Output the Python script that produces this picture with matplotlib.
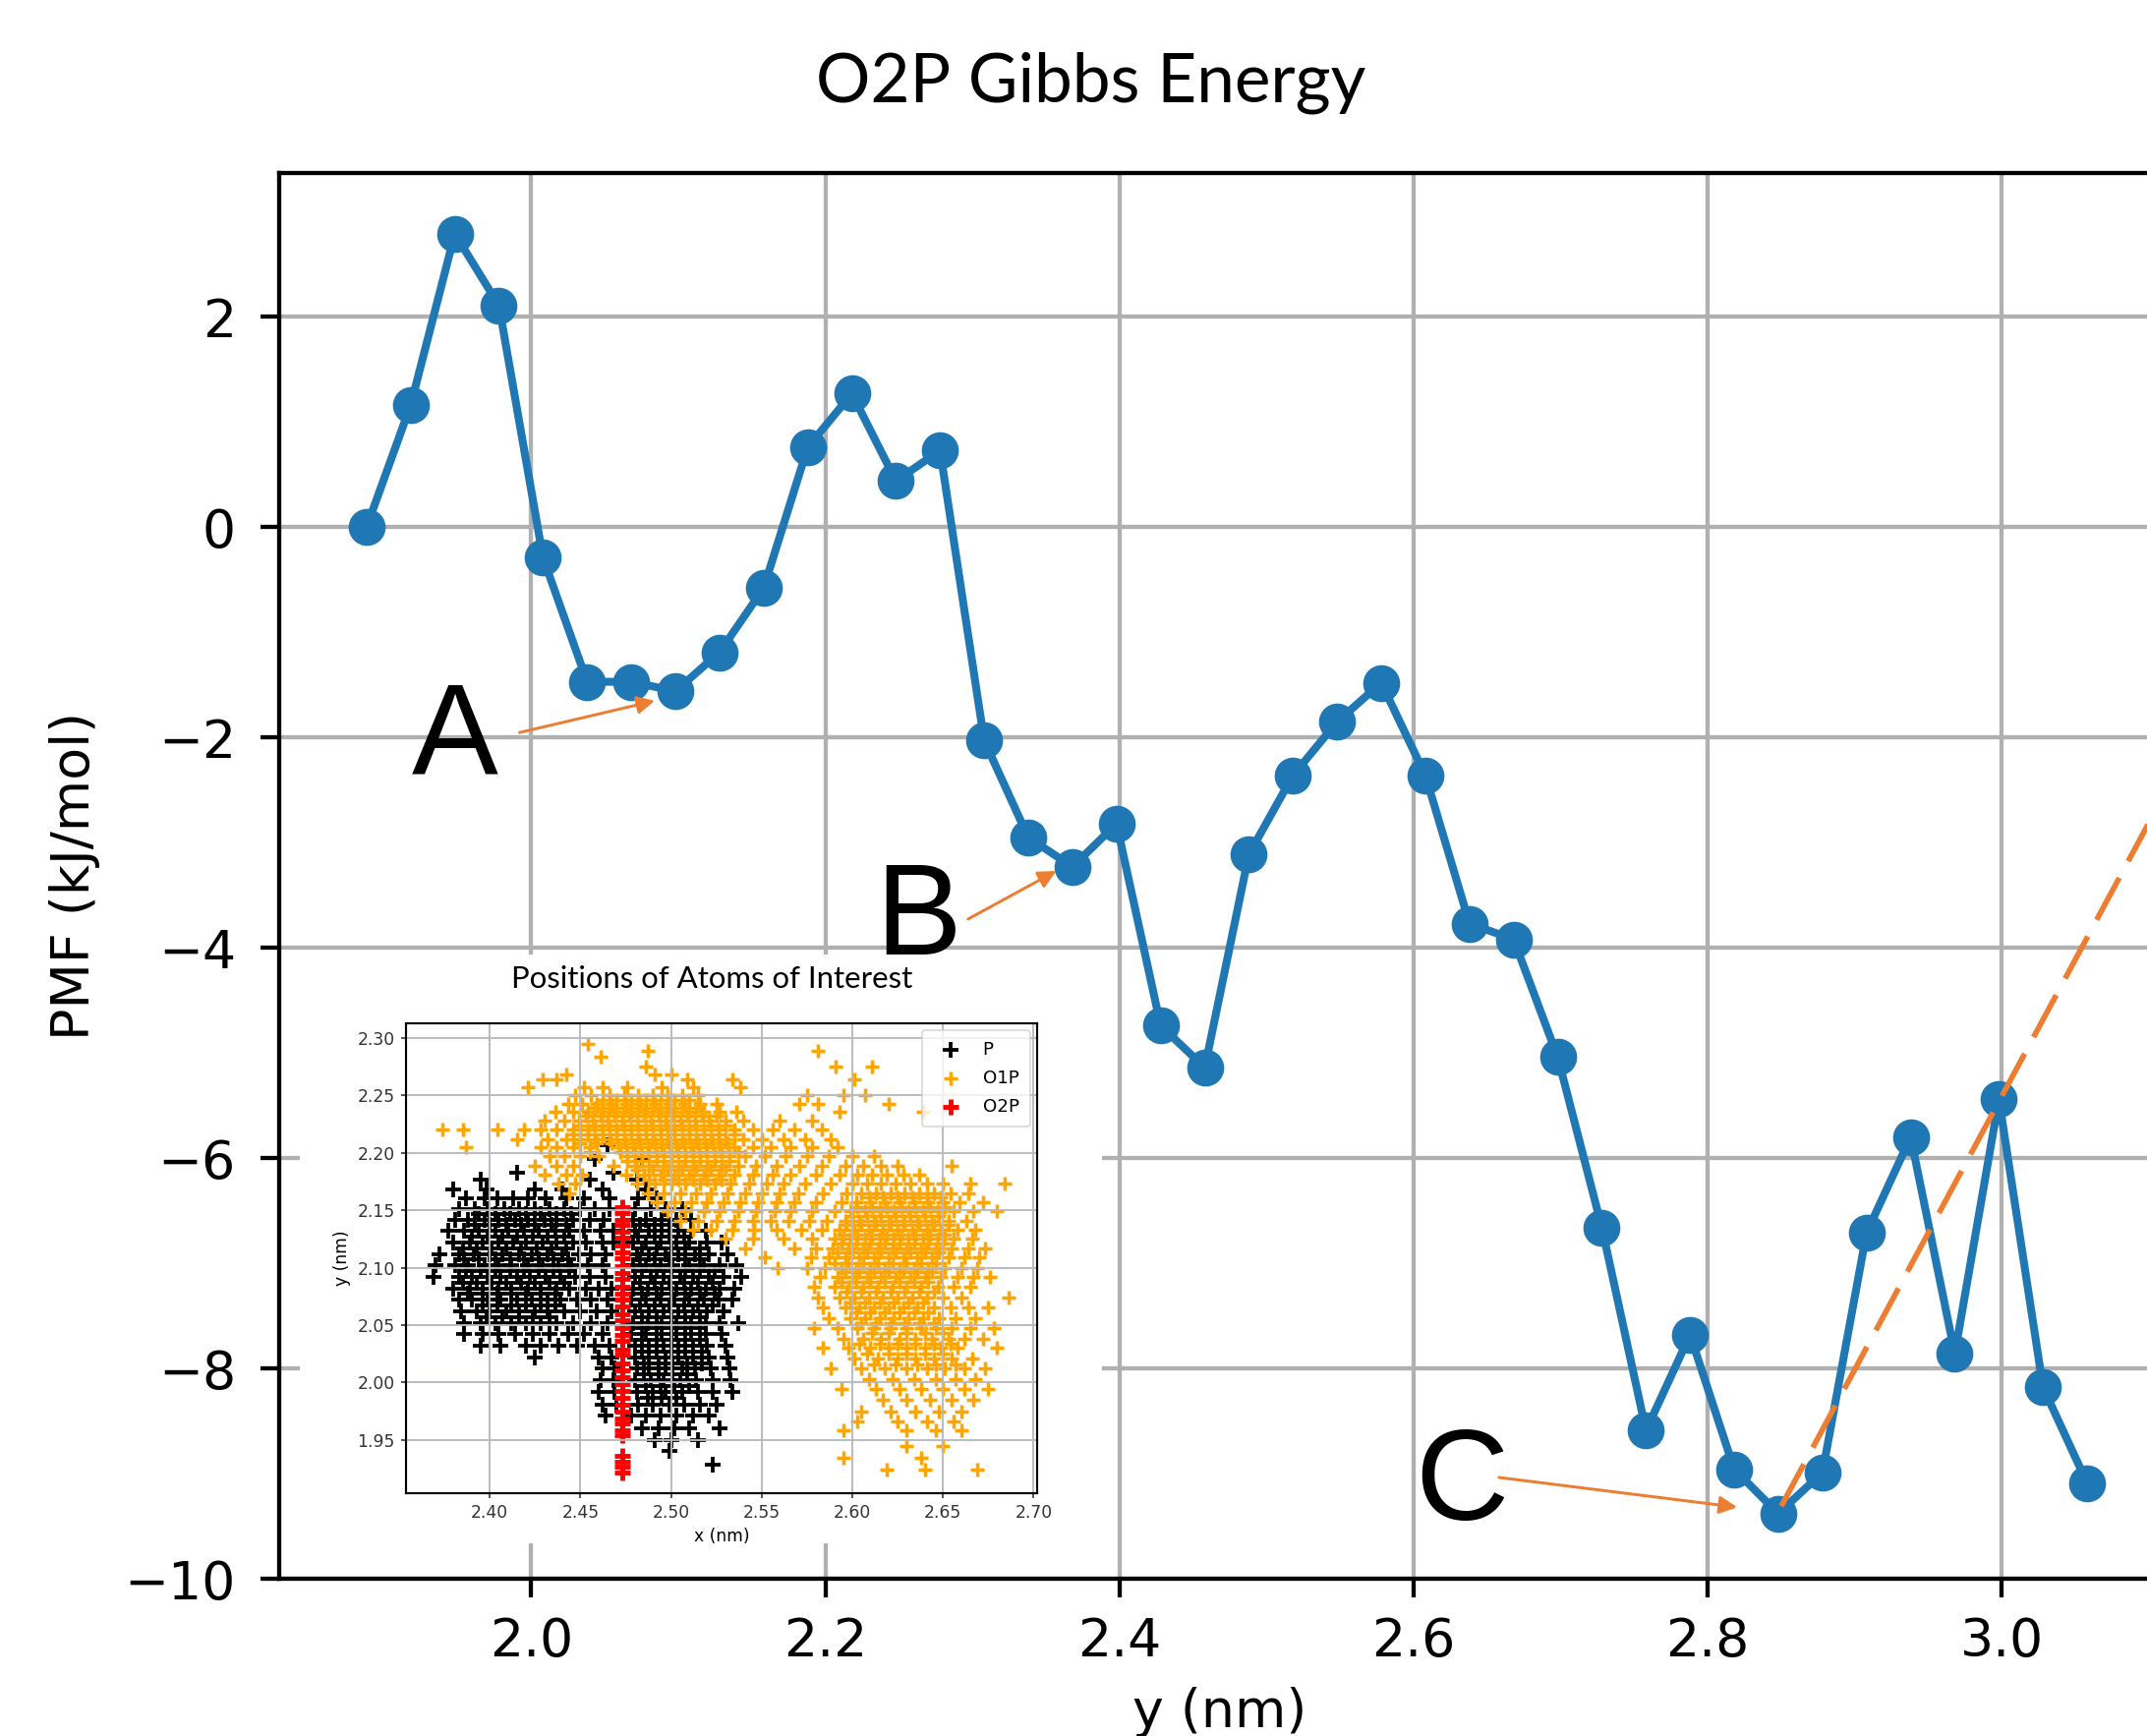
import matplotlib
matplotlib.use("Agg")
import matplotlib.pyplot as plt

# main PMF curve
y_nm = [1.888, 1.918, 1.948, 1.978, 2.008, 2.038, 2.068, 2.098, 2.128, 2.158,
        2.188, 2.218, 2.248, 2.278, 2.308, 2.338, 2.368, 2.398, 2.428, 2.458,
        2.488, 2.518, 2.548, 2.578, 2.608, 2.638, 2.668, 2.698, 2.728, 2.758,
        2.788, 2.818, 2.848, 2.878, 2.908, 2.938, 2.968, 2.998, 3.028, 3.058]
pmf = [0.00, 1.16, 2.79, 2.11, -0.29, -1.47, -1.47, -1.56, -1.19, -0.58,
       0.76, 1.27, 0.44, 0.73, -2.03, -2.95, -3.23, -2.82, -4.74, -5.14,
       -3.11, -2.36, -1.85, -1.48, -2.36, -3.77, -3.92, -5.04, -6.66, -8.59,
       -7.68, -8.96, -9.38, -8.99, -6.71, -5.80, -7.86, -5.44, -8.18, -9.09]

# orange dashed guide line
trend_x = [2.850, 3.120]
trend_y = [-9.31, -2.29]

# letters and their arrows
labels = ["A", "B", "C"]
label_xy = [(1.948, -2.344), (2.263, -4.062), (2.633, -9.44)]
arrow_from = [(1.992, -1.953), (2.297, -3.727), (2.658, -9.037)]
arrow_to = [(2.084, -1.651), (2.357, -3.269), (2.820, -9.320)]

# inset scatter, read row by row: (y, [x, ...])
p_rows = [
    (2.207, [2.465]),
    (2.195, [2.458, 2.484]),
    (2.183, [2.415, 2.468]),
    (2.177, [2.395, 2.455, 2.481]),
    (2.168, [2.380, 2.398, 2.425, 2.440, 2.462, 2.486]),
    (2.160, [2.387, 2.397, 2.404, 2.413, 2.421, 2.431, 2.442, 2.452, 2.466, 2.482, 2.492]),
    (2.151, [2.383, 2.392, 2.399, 2.408, 2.416, 2.425, 2.433, 2.441, 2.450, 2.458, 2.466, 2.480, 2.489, 2.497, 2.506]),
    (2.142, [2.381, 2.388, 2.397, 2.405, 2.414, 2.421, 2.430, 2.437, 2.446, 2.455, 2.463, 2.479, 2.486, 2.495, 2.503, 2.511]),
    (2.132, [2.377, 2.386, 2.394, 2.403, 2.410, 2.419, 2.427, 2.436, 2.444, 2.452, 2.461, 2.468, 2.480, 2.488, 2.495, 2.504, 2.511, 2.519]),
    (2.122, [2.380, 2.389, 2.396, 2.405, 2.413, 2.420, 2.429, 2.437, 2.446, 2.453, 2.462, 2.468, 2.479, 2.486, 2.494, 2.503, 2.510, 2.520, 2.528]),
    (2.112, [2.372, 2.383, 2.391, 2.400, 2.407, 2.416, 2.423, 2.432, 2.440, 2.449, 2.456, 2.464, 2.481, 2.488, 2.497, 2.504, 2.513, 2.521, 2.531]),
    (2.102, [2.370, 2.381, 2.388, 2.397, 2.405, 2.412, 2.421, 2.429, 2.438, 2.445, 2.454, 2.462, 2.479, 2.486, 2.494, 2.501, 2.510, 2.518, 2.527, 2.536]),
    (2.092, [2.369, 2.383, 2.390, 2.399, 2.406, 2.415, 2.422, 2.431, 2.439, 2.447, 2.455, 2.464, 2.480, 2.489, 2.496, 2.505, 2.512, 2.521, 2.529, 2.539]),
    (2.082, [2.380, 2.389, 2.396, 2.405, 2.412, 2.421, 2.428, 2.437, 2.444, 2.453, 2.460, 2.467, 2.479, 2.487, 2.495, 2.503, 2.511, 2.519, 2.527, 2.535]),
    (2.072, [2.383, 2.390, 2.399, 2.406, 2.415, 2.423, 2.432, 2.439, 2.448, 2.456, 2.465, 2.478, 2.486, 2.494, 2.502, 2.510, 2.518, 2.526, 2.534]),
    (2.062, [2.384, 2.393, 2.400, 2.409, 2.416, 2.425, 2.432, 2.441, 2.450, 2.459, 2.467, 2.480, 2.488, 2.496, 2.504, 2.512, 2.520, 2.529]),
    (2.052, [2.386, 2.395, 2.403, 2.412, 2.420, 2.428, 2.437, 2.446, 2.456, 2.465, 2.479, 2.487, 2.495, 2.503, 2.511, 2.519, 2.527, 2.537]),
    (2.042, [2.386, 2.396, 2.405, 2.414, 2.424, 2.433, 2.443, 2.452, 2.462, 2.478, 2.486, 2.495, 2.503, 2.511, 2.519, 2.528]),
    (2.032, [2.395, 2.406, 2.420, 2.428, 2.438, 2.448, 2.458, 2.466, 2.480, 2.488, 2.496, 2.504, 2.512, 2.520, 2.530]),
    (2.022, [2.425, 2.460, 2.467, 2.480, 2.488, 2.497, 2.504, 2.512, 2.521, 2.531]),
    (2.012, [2.462, 2.469, 2.481, 2.488, 2.497, 2.506, 2.513, 2.522, 2.532]),
    (2.002, [2.461, 2.468, 2.480, 2.489, 2.496, 2.505, 2.514, 2.523, 2.533]),
    (1.992, [2.460, 2.469, 2.481, 2.490, 2.497, 2.506, 2.515, 2.523, 2.534]),
    (1.981, [2.462, 2.470, 2.482, 2.490, 2.499, 2.507, 2.516, 2.525]),
    (1.971, [2.464, 2.478, 2.486, 2.494, 2.503, 2.512, 2.521]),
    (1.960, [2.484, 2.493, 2.502, 2.510, 2.527]),
    (1.950, [2.491, 2.500, 2.515]),
    (1.940, [2.499]),
    (1.928, [2.523]),
]
# extra points in the two dense P lobes
p_core_rows = [
    (2.147, [2.394, 2.403, 2.411, 2.420, 2.428, 2.437, 2.445]),
    (2.137, [2.392, 2.400, 2.409, 2.417, 2.425, 2.434, 2.442, 2.483, 2.491, 2.499]),
    (2.127, [2.390, 2.399, 2.407, 2.415, 2.424, 2.432, 2.441, 2.482, 2.491, 2.499, 2.507]),
    (2.117, [2.385, 2.393, 2.401, 2.409, 2.417, 2.426, 2.434, 2.442, 2.484, 2.492, 2.500, 2.508, 2.516]),
    (2.107, [2.386, 2.394, 2.403, 2.411, 2.419, 2.427, 2.435, 2.443, 2.483, 2.491, 2.499, 2.508, 2.516]),
    (2.097, [2.387, 2.395, 2.403, 2.411, 2.419, 2.427, 2.435, 2.444, 2.484, 2.492, 2.500, 2.508, 2.516, 2.524]),
    (2.087, [2.385, 2.393, 2.401, 2.409, 2.417, 2.425, 2.433, 2.441, 2.483, 2.491, 2.499, 2.507, 2.515, 2.523]),
    (2.077, [2.388, 2.396, 2.404, 2.412, 2.420, 2.428, 2.436, 2.484, 2.492, 2.500, 2.508, 2.516, 2.524]),
    (2.067, [2.396, 2.404, 2.412, 2.420, 2.428, 2.436, 2.483, 2.491, 2.499, 2.507, 2.515, 2.523]),
    (2.057, [2.398, 2.407, 2.416, 2.424, 2.433, 2.484, 2.492, 2.500, 2.508, 2.516]),
    (2.047, [2.484, 2.492, 2.500, 2.508, 2.516]),
    (2.037, [2.484, 2.492, 2.500, 2.508, 2.516]),
    (2.027, [2.484, 2.492, 2.500, 2.508, 2.517]),
    (2.017, [2.485, 2.493, 2.501, 2.509, 2.517]),
    (2.007, [2.485, 2.493, 2.501, 2.509]),
    (1.997, [2.486, 2.494, 2.502, 2.510]),
    (1.987, [2.487, 2.495, 2.503]),
]
o1p_rows = [
    (2.295, [2.454]),
    (2.289, [2.487, 2.581]),
    (2.284, [2.461]),
    (2.275, [2.486, 2.591, 2.611]),
    (2.268, [2.442, 2.491, 2.500]),
    (2.264, [2.429, 2.437, 2.509, 2.534, 2.601]),
    (2.257, [2.421, 2.452, 2.462, 2.476, 2.495, 2.512, 2.538]),
    (2.250, [2.447, 2.456, 2.466, 2.474, 2.482, 2.490, 2.498, 2.506, 2.515, 2.575, 2.595, 2.607]),
    (2.243, [2.443, 2.451, 2.459, 2.467, 2.475, 2.483, 2.491, 2.499, 2.507, 2.516, 2.525, 2.571, 2.581, 2.620]),
    (2.236, [2.436, 2.446, 2.454, 2.462, 2.470, 2.478, 2.486, 2.494, 2.502, 2.510, 2.518, 2.527, 2.536, 2.593, 2.639]),
    (2.228, [2.430, 2.441, 2.449, 2.457, 2.465, 2.473, 2.481, 2.489, 2.497, 2.505, 2.513, 2.521, 2.530, 2.540, 2.560, 2.578]),
    (2.220, [2.374, 2.385, 2.404, 2.419, 2.428, 2.437, 2.446, 2.454, 2.462, 2.470, 2.478, 2.486, 2.494, 2.502, 2.510, 2.518, 2.526, 2.535, 2.545, 2.556, 2.568, 2.583]),
    (2.212, [2.415, 2.432, 2.442, 2.450, 2.458, 2.466, 2.474, 2.482, 2.490, 2.498, 2.506, 2.514, 2.522, 2.530, 2.540, 2.550, 2.562, 2.574, 2.588]),
    (2.205, [2.387, 2.428, 2.437, 2.446, 2.455, 2.471, 2.479, 2.487, 2.495, 2.503, 2.511, 2.519, 2.527, 2.535, 2.545, 2.555, 2.566, 2.578, 2.592]),
    (2.197, [2.433, 2.441, 2.450, 2.460, 2.476, 2.484, 2.492, 2.500, 2.508, 2.516, 2.524, 2.532, 2.541, 2.552, 2.563, 2.575, 2.587, 2.600, 2.612]),
    (2.189, [2.425, 2.437, 2.446, 2.468, 2.480, 2.488, 2.496, 2.504, 2.512, 2.520, 2.528, 2.537, 2.547, 2.558, 2.571, 2.583, 2.596, 2.606, 2.616, 2.625, 2.655]),
    (2.181, [2.430, 2.442, 2.451, 2.475, 2.485, 2.494, 2.502, 2.510, 2.518, 2.526, 2.535, 2.545, 2.556, 2.566, 2.580, 2.593, 2.603, 2.611, 2.619, 2.628, 2.637]),
    (2.173, [2.438, 2.447, 2.481, 2.491, 2.500, 2.508, 2.516, 2.524, 2.533, 2.543, 2.553, 2.562, 2.574, 2.588, 2.600, 2.608, 2.616, 2.624, 2.632, 2.641, 2.650, 2.665, 2.684]),
    (2.165, [2.444, 2.487, 2.496, 2.505, 2.514, 2.522, 2.531, 2.541, 2.550, 2.560, 2.570, 2.584, 2.597, 2.605, 2.613, 2.621, 2.629, 2.637, 2.645, 2.654, 2.664]),
    (2.157, [2.492, 2.502, 2.511, 2.520, 2.529, 2.538, 2.548, 2.558, 2.568, 2.580, 2.594, 2.602, 2.610, 2.618, 2.626, 2.634, 2.642, 2.650, 2.659, 2.672]),
    (2.149, [2.498, 2.508, 2.518, 2.527, 2.537, 2.547, 2.557, 2.566, 2.578, 2.590, 2.599, 2.607, 2.615, 2.623, 2.631, 2.639, 2.647, 2.656, 2.667, 2.680]),
    (2.141, [2.505, 2.515, 2.525, 2.535, 2.545, 2.555, 2.565, 2.576, 2.586, 2.596, 2.604, 2.612, 2.620, 2.628, 2.636, 2.644, 2.653, 2.663]),
    (2.133, [2.512, 2.522, 2.534, 2.546, 2.558, 2.572, 2.583, 2.593, 2.601, 2.609, 2.617, 2.625, 2.633, 2.641, 2.649, 2.658, 2.668]),
    (2.125, [2.530, 2.545, 2.562, 2.578, 2.590, 2.599, 2.607, 2.615, 2.623, 2.631, 2.639, 2.647, 2.656, 2.666]),
    (2.117, [2.541, 2.568, 2.580, 2.589, 2.598, 2.606, 2.614, 2.622, 2.630, 2.638, 2.646, 2.655, 2.664, 2.673]),
    (2.109, [2.552, 2.577, 2.587, 2.596, 2.604, 2.612, 2.620, 2.628, 2.636, 2.644, 2.653, 2.662, 2.670]),
    (2.100, [2.559, 2.575, 2.585, 2.594, 2.602, 2.610, 2.618, 2.626, 2.634, 2.642, 2.651, 2.660, 2.669]),
    (2.092, [2.582, 2.592, 2.600, 2.608, 2.616, 2.624, 2.632, 2.640, 2.649, 2.658, 2.667, 2.676]),
    (2.083, [2.579, 2.590, 2.598, 2.606, 2.614, 2.622, 2.630, 2.638, 2.647, 2.656, 2.665]),
    (2.074, [2.581, 2.593, 2.601, 2.609, 2.617, 2.625, 2.633, 2.641, 2.650, 2.660, 2.686]),
    (2.065, [2.584, 2.596, 2.604, 2.612, 2.620, 2.628, 2.636, 2.645, 2.654, 2.664, 2.675]),
    (2.056, [2.587, 2.599, 2.607, 2.615, 2.623, 2.631, 2.639, 2.648, 2.657, 2.668]),
    (2.047, [2.579, 2.592, 2.603, 2.612, 2.621, 2.630, 2.638, 2.646, 2.655, 2.665, 2.678]),
    (2.038, [2.595, 2.606, 2.616, 2.626, 2.635, 2.644, 2.653, 2.662, 2.672]),
    (2.030, [2.584, 2.598, 2.610, 2.620, 2.630, 2.640, 2.649, 2.658, 2.680]),
    (2.021, [2.601, 2.614, 2.625, 2.635, 2.645, 2.655, 2.666]),
    (2.012, [2.588, 2.605, 2.618, 2.630, 2.641, 2.651, 2.662, 2.673]),
    (2.003, [2.609, 2.622, 2.634, 2.646, 2.657, 2.668]),
    (1.994, [2.594, 2.613, 2.626, 2.638, 2.650, 2.662, 2.675]),
    (1.985, [2.617, 2.630, 2.643, 2.655, 2.667]),
    (1.975, [2.605, 2.621, 2.635, 2.648, 2.660]),
    (1.966, [2.603, 2.625, 2.641, 2.656]),
    (1.958, [2.595, 2.630, 2.646, 2.660]),
    (1.945, [2.630, 2.650]),
    (1.934, [2.595, 2.638]),
    (1.924, [2.619, 2.640, 2.669]),
]
# extra points in the two dense O1P blobs
o1p_core_rows = [
    (2.246, [2.462, 2.470, 2.478, 2.486, 2.494, 2.502, 2.510]),
    (2.239, [2.458, 2.466, 2.474, 2.482, 2.490, 2.498, 2.506, 2.514]),
    (2.232, [2.453, 2.461, 2.469, 2.477, 2.485, 2.493, 2.501, 2.509, 2.517, 2.525]),
    (2.224, [2.450, 2.458, 2.466, 2.474, 2.482, 2.490, 2.498, 2.506, 2.514, 2.522, 2.530]),
    (2.216, [2.446, 2.454, 2.462, 2.470, 2.478, 2.486, 2.494, 2.502, 2.510, 2.518, 2.526, 2.535]),
    (2.208, [2.450, 2.459, 2.467, 2.475, 2.483, 2.491, 2.499, 2.507, 2.515, 2.523, 2.531]),
    (2.201, [2.455, 2.472, 2.480, 2.488, 2.496, 2.504, 2.512, 2.520, 2.528, 2.537]),
    (2.193, [2.476, 2.484, 2.492, 2.500, 2.508, 2.516, 2.524, 2.532]),
    (2.185, [2.481, 2.490, 2.498, 2.506, 2.514, 2.522, 2.530]),
    (2.177, [2.488, 2.496, 2.504, 2.512, 2.520, 2.528]),
    (2.161, [2.609, 2.617, 2.625, 2.633, 2.641, 2.649]),
    (2.153, [2.603, 2.611, 2.619, 2.627, 2.635, 2.643, 2.651]),
    (2.145, [2.600, 2.608, 2.616, 2.624, 2.632, 2.640, 2.648]),
    (2.137, [2.597, 2.605, 2.613, 2.621, 2.629, 2.637, 2.645, 2.653]),
    (2.129, [2.595, 2.603, 2.611, 2.619, 2.627, 2.635, 2.643, 2.651]),
    (2.121, [2.594, 2.602, 2.610, 2.618, 2.626, 2.634, 2.642, 2.650]),
    (2.113, [2.592, 2.600, 2.608, 2.616, 2.624, 2.632, 2.640, 2.648]),
    (2.104, [2.590, 2.598, 2.606, 2.614, 2.622, 2.630, 2.638, 2.646]),
    (2.096, [2.596, 2.604, 2.612, 2.620, 2.628, 2.636, 2.644]),
    (2.088, [2.594, 2.602, 2.610, 2.618, 2.626, 2.634, 2.642]),
    (2.079, [2.597, 2.605, 2.613, 2.621, 2.629, 2.637, 2.645]),
    (2.070, [2.599, 2.607, 2.615, 2.623, 2.631, 2.639]),
    (2.061, [2.602, 2.610, 2.618, 2.626, 2.634, 2.642]),
    (2.052, [2.605, 2.613, 2.621, 2.629, 2.637, 2.645]),
    (2.043, [2.611, 2.620, 2.630, 2.640, 2.650]),
    (2.034, [2.604, 2.615, 2.625, 2.635, 2.645, 2.654]),
    (2.025, [2.608, 2.620, 2.630, 2.640, 2.650]),
    (2.016, [2.612, 2.624, 2.636, 2.646, 2.657]),
]
o2p_y = [2.153, 2.148, 2.142, 2.137, 2.131, 2.126, 2.119, 2.113, 2.108, 2.101,
         2.095, 2.090, 2.083, 2.077, 2.072, 2.066, 2.059, 2.054, 2.047, 2.041,
         2.036, 2.029, 2.024, 2.017, 2.011, 2.005, 1.999, 1.993, 1.987, 1.981,
         1.975, 1.969, 1.964, 1.958, 1.954, 1.936, 1.931, 1.927, 1.922]
o2p_x = [2.473] * len(o2p_y)

p_x = [x for y, xs in p_rows + p_core_rows for x in xs]
p_y = [y for y, xs in p_rows + p_core_rows for x in xs]
o1p_x = [x for y, xs in o1p_rows + o1p_core_rows for x in xs]
o1p_y = [y for y, xs in o1p_rows + o1p_core_rows for x in xs]

ORANGE = "#ED7D31"
W, H, DPI = 2184, 1766, 387

fig = plt.figure(figsize=(W / DPI, H / DPI), dpi=DPI)
ax = fig.add_axes([284 / W, 160 / H, 1925 / W, 1430.5 / H])

ax.plot(y_nm, pmf, marker="o", color="#1f77b4")
ax.plot(trend_x, trend_y, color=ORANGE, lw=1.05, linestyle=(0, (8.6, 3.4)))

for lab, (tx, ty), start, end in zip(labels, label_xy, arrow_from, arrow_to):
    ax.text(tx, ty, lab, ha="center", va="baseline", fontsize=24.5,
            family="Liberation Sans")
    ax.annotate("", xy=end, xytext=start,
                arrowprops=dict(arrowstyle="-|>", color=ORANGE, lw=0.55,
                                mutation_scale=7, shrinkA=0, shrinkB=0))

ax.set_xlim(1.8286, 3.1154)
ax.set_ylim(-10.0, 3.373)
ax.set_yticks([-10, -8, -6, -4, -2, 0, 2])
ax.grid(True)
ax.tick_params(axis="y", pad=4.7)
ax.set_xlabel("y (nm)")
ax.set_ylabel("PMF (kJ/mol)")
ax.xaxis.set_label_coords(0.497, -0.0769)
ax.yaxis.set_label_coords(-0.0946, 0.5)

fig.text(1110 / W, 1 - 84 / H, "O2P Gibbs Energy", ha="center", va="center",
         fontsize=12.9, family="Lato")

# white box holding the inset figure
bg = fig.add_axes([305 / W, 1 - 1570 / H, 816 / W, 599 / H], zorder=1)
bg.set_facecolor("white")
bg.set_xticks([])
bg.set_yticks([])
for s in bg.spines.values():
    s.set_visible(False)

ins = fig.add_axes([412.7 / W, 1 - 1519 / H, 642.3 / W, 478 / H], zorder=2)
ins.scatter(p_x, p_y, marker="+", s=8, linewidths=0.7, color="black", label="P")
ins.scatter(o1p_x, o1p_y, marker="+", s=7, linewidths=0.65, color="orange", label="O1P")
ins.scatter(o2p_x, o2p_y, marker="+", s=9, linewidths=0.9, color="red", label="O2P")
ins.set_xlim(2.3536, 2.702)
ins.set_ylim(1.9036, 2.3128)
ins.set_xticks([2.40, 2.45, 2.50, 2.55, 2.60, 2.65, 2.70])
ins.set_yticks([1.95, 2.00, 2.05, 2.10, 2.15, 2.20, 2.25, 2.30])
ins.xaxis.set_major_formatter("{x:.2f}")
ins.yaxis.set_major_formatter("{x:.2f}")
ins.grid(True, lw=0.35, color="#b8b8c0")
ins.tick_params(labelsize=3.2, length=1.0, width=0.3, pad=1.0, colors="#333333")
for s in ins.spines.values():
    s.set_linewidth(0.4)
ins.set_xlabel("x (nm)", fontsize=3.2, labelpad=1.2)
ins.set_ylabel("y (nm)", fontsize=3.2, labelpad=1.2)
leg = ins.legend(loc="upper right", fontsize=3.4, frameon=True, borderpad=0.6,
                 handletextpad=0.8, labelspacing=0.6, borderaxespad=0.4)
leg.get_frame().set_linewidth(0.3)

fig.text(724 / W, 1 - 996 / H, "Positions of Atoms of Interest", ha="center",
         va="center", fontsize=5.8, family="Lato")

fig.savefig("out.png", dpi=DPI)
